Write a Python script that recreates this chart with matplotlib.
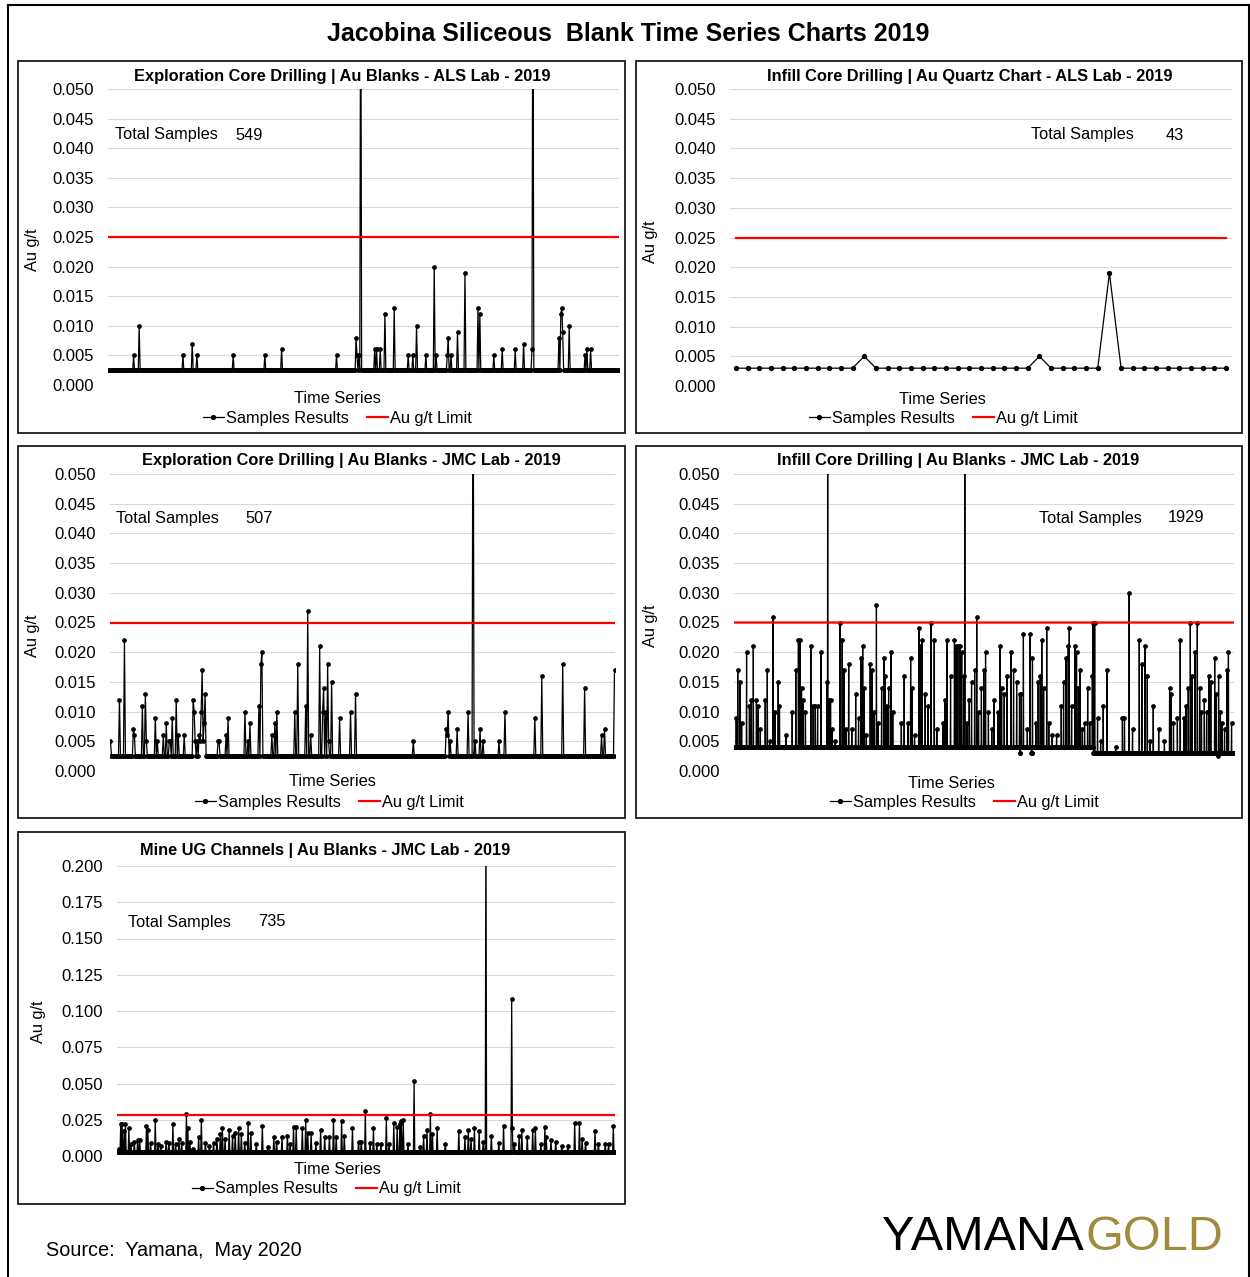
import numpy as np
import matplotlib
matplotlib.use("Agg")
import matplotlib.pyplot as plt
from matplotlib.lines import Line2D
from matplotlib.patches import Rectangle

W, H = 1250, 1277
plt.rcParams['font.family'] = ['Liberation Sans', 'DejaVu Sans']

# ---------------- data ----------------
# each panel: sample count, usual blank value, and the samples that differ from it
p1_n = 549
p1_base = 0.0025
p1_idx = [27, 33, 80, 90, 95, 134, 168, 186, 245, 266, 267, 269, 271, 286, 288, 292,
          297, 307, 322, 327, 331, 341, 350, 352, 364, 365, 368, 375, 383, 397, 399,
          414, 423, 437, 446, 455, 456, 484, 486, 487, 488, 495, 512, 514, 518]
p1_val = [0.005, 0.010, 0.005, 0.007, 0.005, 0.005, 0.005, 0.006, 0.005, 0.008, 0.005,
          0.005, 0.080, 0.006, 0.006, 0.006, 0.012, 0.013, 0.005, 0.005, 0.010, 0.005,
          0.020, 0.005, 0.005, 0.008, 0.005, 0.009, 0.019, 0.013, 0.012, 0.005, 0.006,
          0.006, 0.007, 0.006, 0.080, 0.008, 0.012, 0.013, 0.009, 0.010, 0.005, 0.006,
          0.006]

p2_n = 43
p2_base = 0.003
p2_idx = [11, 26, 32]
p2_val = [0.005, 0.005, 0.019]

p3_n = 507
p3_base = 0.0025
p3_idx = [0, 9, 14, 23, 24, 32, 35, 36, 45, 47, 53, 56, 59, 60, 62, 66, 68, 74, 83, 84,
          85, 87, 89, 90, 91, 92, 93, 94, 95, 108, 109, 116, 118, 135, 138, 140, 149,
          151, 152, 162, 165, 167, 185, 188, 196, 198, 201, 210, 213, 214, 216, 218,
          219, 222, 230, 241, 246, 304, 337, 338, 339, 341, 348, 359, 364, 366, 371,
          374, 390, 396, 426, 433, 454, 476, 493, 496, 506]
p3_val = [0.005, 0.012, 0.022, 0.007, 0.006, 0.011, 0.013, 0.005, 0.009, 0.005, 0.006,
          0.008, 0.005, 0.005, 0.009, 0.012, 0.006, 0.006, 0.012, 0.010, 0.005, 0.005,
          0.006, 0.005, 0.010, 0.017, 0.005, 0.008, 0.013, 0.005, 0.005, 0.006, 0.009,
          0.010, 0.005, 0.008, 0.011, 0.018, 0.020, 0.006, 0.008, 0.010, 0.010, 0.018,
          0.011, 0.027, 0.006, 0.021, 0.010, 0.014, 0.010, 0.018, 0.005, 0.015, 0.009,
          0.010, 0.013, 0.005, 0.007, 0.006, 0.010, 0.005, 0.007, 0.010, 0.080, 0.005,
          0.007, 0.005, 0.005, 0.010, 0.009, 0.016, 0.018, 0.014, 0.006, 0.007, 0.017]

p4_n = 1929
p4_base = 0.004
p4_base_late = 0.003
p4_switch = 1385
p4_idx = [8, 14, 23, 29, 48, 59, 66, 74, 86, 93, 101, 120, 128, 137, 150, 158, 170, 175,
          200, 224, 238, 248, 254, 260, 266, 275, 296, 305, 313, 322, 335, 358, 361, 367,
          372, 378, 390, 408, 417, 424, 432, 442, 454, 469, 480, 489, 496, 502, 510, 525,
          532, 540, 549, 555, 569, 578, 582, 590, 596, 605, 612, 645, 656, 671, 681, 687,
          696, 713, 719, 725, 737, 748, 760, 772, 782, 806, 814, 821, 835, 850, 856, 863,
          871, 878, 886, 890, 898, 907, 916, 928, 936, 943, 954, 963, 970, 981, 994, 1003,
          1018, 1026, 1032, 1042, 1053, 1068, 1078, 1090, 1101, 1103, 1104, 1108, 1116,
          1131, 1142, 1147, 1148, 1149, 1151, 1164, 1173, 1181, 1187, 1194, 1206, 1214,
          1227, 1244, 1262, 1271, 1280, 1289, 1293, 1302, 1315, 1321, 1328, 1334, 1343,
          1352, 1364, 1372, 1382, 1385, 1391, 1402, 1414, 1424, 1439, 1472, 1498, 1506,
          1524, 1537, 1563, 1573, 1585, 1594, 1605, 1617, 1638, 1660, 1680, 1686, 1695,
          1710, 1721, 1736, 1743, 1752, 1760, 1767, 1778, 1787, 1796, 1803, 1814, 1823,
          1832, 1839, 1854, 1860, 1868, 1869, 1876, 1883, 1892, 1901, 1907, 1919]
p4_val = [0.009, 0.017, 0.015, 0.008, 0.020, 0.011, 0.012, 0.021, 0.012, 0.011, 0.007,
          0.012, 0.017, 0.005, 0.026, 0.010, 0.015, 0.011, 0.006, 0.010, 0.017, 0.022,
          0.022, 0.014, 0.012, 0.010, 0.021, 0.011, 0.011, 0.011, 0.020, 0.015, 0.080,
          0.012, 0.012, 0.007, 0.005, 0.025, 0.022, 0.017, 0.007, 0.018, 0.007, 0.013,
          0.009, 0.019, 0.021, 0.014, 0.006, 0.018, 0.017, 0.010, 0.028, 0.008, 0.014,
          0.019, 0.016, 0.011, 0.014, 0.020, 0.010, 0.008, 0.016, 0.008, 0.019, 0.014,
          0.006, 0.024, 0.021, 0.022, 0.013, 0.011, 0.025, 0.022, 0.007, 0.008, 0.012,
          0.022, 0.016, 0.022, 0.021, 0.021, 0.021, 0.020, 0.016, 0.080, 0.008, 0.012,
          0.015, 0.017, 0.026, 0.010, 0.014, 0.017, 0.020, 0.010, 0.007, 0.012, 0.010,
          0.021, 0.014, 0.013, 0.016, 0.020, 0.017, 0.015, 0.013, 0.003, 0.003, 0.013,
          0.023, 0.007, 0.023, 0.003, 0.003, 0.003, 0.019, 0.008, 0.015, 0.016, 0.022,
          0.014, 0.024, 0.008, 0.006, 0.006, 0.011, 0.015, 0.019, 0.021, 0.024, 0.011,
          0.021, 0.020, 0.014, 0.017, 0.007, 0.008, 0.014, 0.008, 0.016, 0.025, 0.025,
          0.009, 0.005, 0.011, 0.017, 0.004, 0.009, 0.009, 0.030, 0.007, 0.022, 0.018,
          0.021, 0.016, 0.005, 0.011, 0.007, 0.005, 0.014, 0.013, 0.008, 0.009, 0.022,
          0.009, 0.011, 0.014, 0.025, 0.016, 0.020, 0.025, 0.014, 0.010, 0.012, 0.010,
          0.016, 0.015, 0.019, 0.013, 0.0025, 0.016, 0.010, 0.008, 0.007, 0.017, 0.020,
          0.008]

p5_n = 735
p5_base = 0.003
p5_idx = [3, 5, 7, 10, 12, 17, 20, 25, 30, 33, 43, 45, 49, 56, 60, 64, 72, 76, 82, 86,
          91, 95, 102, 104, 107, 112, 120, 124, 130, 136, 142, 147, 152, 155, 159, 165,
          170, 174, 179, 183, 188, 193, 197, 205, 214, 222, 231, 235, 243, 251, 255, 260,
          264, 273, 278, 281, 286, 293, 300, 306, 313, 319, 323, 331, 335, 347, 356, 360,
          366, 373, 378, 383, 389, 397, 401, 408, 413, 417, 419, 422, 429, 438, 447, 452,
          457, 462, 465, 472, 484, 504, 513, 518, 522, 527, 534, 540, 544, 552, 563, 570,
          582, 583, 586, 593, 597, 605, 613, 617, 625, 631, 633, 640, 647, 656, 665, 675,
          682, 686, 691, 705, 710, 720, 725, 732]
p5_val = [0.005, 0.022, 0.022, 0.017, 0.022, 0.019, 0.008, 0.010, 0.011, 0.011, 0.021,
          0.018, 0.009, 0.025, 0.008, 0.007, 0.010, 0.009, 0.022, 0.008, 0.012, 0.009,
          0.029, 0.019, 0.010, 0.005, 0.013, 0.025, 0.009, 0.007, 0.009, 0.012, 0.015,
          0.019, 0.012, 0.018, 0.014, 0.016, 0.019, 0.015, 0.009, 0.023, 0.016, 0.008,
          0.021, 0.006, 0.013, 0.010, 0.013, 0.014, 0.008, 0.020, 0.020, 0.019, 0.025,
          0.016, 0.016, 0.009, 0.018, 0.013, 0.013, 0.025, 0.013, 0.024, 0.014, 0.019,
          0.010, 0.010, 0.031, 0.009, 0.019, 0.008, 0.008, 0.026, 0.008, 0.023, 0.020,
          0.022, 0.024, 0.025, 0.008, 0.052, 0.006, 0.014, 0.018, 0.029, 0.015, 0.019,
          0.008, 0.017, 0.013, 0.018, 0.012, 0.019, 0.017, 0.010, 0.250, 0.014, 0.009,
          0.021, 0.108, 0.019, 0.008, 0.014, 0.018, 0.013, 0.018, 0.019, 0.008, 0.020,
          0.013, 0.011, 0.010, 0.007, 0.007, 0.023, 0.023, 0.012, 0.009, 0.017, 0.008,
          0.008, 0.008, 0.021]

limit_core = 0.025
limit_channels = 0.028

titles = ["Exploration Core Drilling | Au Blanks - ALS Lab - 2019",
          "Infill Core Drilling | Au Quartz Chart - ALS Lab - 2019",
          "Exploration Core Drilling | Au Blanks - JMC Lab - 2019",
          "Infill Core Drilling | Au Blanks - JMC Lab - 2019",
          "Mine UG Channels | Au Blanks - JMC Lab - 2019"]
core_ticks = [0.000, 0.005, 0.010, 0.015, 0.020, 0.025, 0.030, 0.035, 0.040, 0.045, 0.050]
channel_ticks = [0.000, 0.025, 0.050, 0.075, 0.100, 0.125, 0.150, 0.175, 0.200]


def build(n, base, idx, val):
    s = np.full(n, base, dtype=float)
    s[idx] = val
    return s


s1 = build(p1_n, p1_base, p1_idx, p1_val)
s2 = build(p2_n, p2_base, p2_idx, p2_val)
s3 = build(p3_n, p3_base, p3_idx, p3_val)
s4 = np.full(p4_n, p4_base)
s4[p4_switch:] = p4_base_late
s4[p4_idx] = p4_val
s5 = build(p5_n, p5_base, p5_idx, p5_val)


def fx(x):
    return x / W


def fy(y):
    return 1 - y / H


fig = plt.figure(figsize=(W / 100, H / 100), dpi=100)

# outer frame
fig.add_artist(Line2D([fx(8), fx(8)], [fy(5), 0], transform=fig.transFigure, color='black', lw=1.5))
fig.add_artist(Line2D([fx(8), fx(1249)], [fy(5), fy(5)], transform=fig.transFigure, color='black', lw=1.5))
fig.add_artist(Line2D([fx(1249), fx(1249)], [fy(5), 0], transform=fig.transFigure, color='black', lw=1.5))

fig.text(fx(628), fy(34), "Jacobina Siliceous  Blank Time Series Charts 2019", ha='center', va='center',
         fontsize=18, fontweight='bold')

FS = 11.8

# layout of each panel in pixels: box, axes (L, R, T, B), title, y label, "Time Series", legend, totals
panels = [
    dict(s=s1, lim=limit_core, ticks=core_ticks, box=(18, 61, 625, 433), ax=(108, 619, 89, 385),
         title=(342, 77), ylab=(32, 250), ts=(337, 398), leg=(337, 418), tot=(115, 135), num=(235, 135),
         total=str(p1_n), ms=2.4),
    dict(s=s2, lim=limit_core, ticks=core_ticks, box=(636, 61, 1242, 433), ax=(730, 1232, 89, 386),
         title=(970, 77), ylab=(651, 242), ts=(942, 399), leg=(943, 418), tot=(1031, 135), num=(1166, 135),
         total=str(p2_n), ms=2.8),
    dict(s=s3, lim=limit_core, ticks=core_ticks, box=(18, 446, 625, 818), ax=(110, 615, 474, 771),
         title=(351, 461), ylab=(32, 636), ts=(332, 782), leg=(329, 802), tot=(116, 519), num=(245, 519),
         total=str(p3_n), ms=2.4),
    dict(s=s4, lim=limit_core, ticks=core_ticks, box=(636, 446, 1242, 818), ax=(734, 1234, 474, 771),
         title=(958, 461), ylab=(651, 626), ts=(951, 783), leg=(964, 802), tot=(1039, 518), num=(1168, 518),
         total=str(p4_n), ms=2.4),
    dict(s=s5, lim=limit_channels, ticks=channel_ticks, box=(18, 832, 625, 1204), ax=(117, 615, 866, 1156),
         title=(325, 851), ylab=(38, 1022), ts=(337, 1169), leg=(326, 1189), tot=(128, 922), num=(258, 922),
         total=str(p5_n), ms=2.4),
]

for i, p in enumerate(panels):
    x0, y0, x1, y1 = p['box']
    fig.add_artist(Rectangle((fx(x0), fy(y1)), (x1 - x0) / W, (y1 - y0) / H, transform=fig.transFigure,
                             fill=False, ec='#1a1a1a', lw=1.3))
    L, R, T, B = p['ax']
    ax = fig.add_axes([fx(L), fy(B), (R - L) / W, (B - T) / H])
    s = p['s']
    x = np.arange(len(s))
    ax.plot(x, s, color='black', lw=0.9, marker='o', ms=p['ms'], zorder=2)
    ax.plot(x, np.full(len(s), p['lim']), color='red', lw=1.6, zorder=3)
    ax.set_xlim(-0.5, len(s) - 0.5)
    ax.set_ylim(p['ticks'][0], p['ticks'][-1])
    ax.set_yticks(p['ticks'])
    ax.set_yticklabels(["%.3f" % t for t in p['ticks']])
    ax.set_xticks([])
    ax.tick_params(axis='y', length=0, pad=10, labelsize=12)
    ax.yaxis.grid(True, color='#d9d9d9', lw=0.8)
    ax.set_axisbelow(True)
    for sp in ax.spines.values():
        sp.set_visible(False)

    fig.text(fx(p['title'][0]), fy(p['title'][1]), titles[i], ha='center', va='center',
             fontsize=FS, fontweight='bold')
    fig.text(fx(p['ylab'][0]), fy(p['ylab'][1]), "Au g/t", rotation=90, ha='center', va='center',
             fontsize=FS)
    fig.text(fx(p['ts'][0]), fy(p['ts'][1]), "Time Series", ha='center', va='center', fontsize=FS)
    fig.text(fx(p['tot'][0]), fy(p['tot'][1]), "Total Samples", ha='left', va='center', fontsize=FS)
    fig.text(fx(p['num'][0]), fy(p['num'][1]), p['total'], ha='left', va='center', fontsize=FS)

    handles = [Line2D([], [], color='black', lw=0.9, marker='o', ms=2.8),
               Line2D([], [], color='red', lw=1.6)]
    fig.legend(handles, ["Samples Results", "Au g/t Limit"], loc='center',
               bbox_to_anchor=(fx(p['leg'][0]), fy(p['leg'][1])), ncol=2, frameon=False,
               fontsize=FS, handlelength=1.3, handletextpad=0.1, columnspacing=1.1,
               borderpad=0, borderaxespad=0)

fig.text(fx(46), fy(1251), "Source:  Yamana,  May 2020", ha='left', va='center', fontsize=14.3)
fig.text(fx(1084), fy(1237), "YAMANA", ha='right', va='center', fontsize=35, color='black')
fig.text(fx(1085), fy(1237), "GOLD", ha='left', va='center', fontsize=35, color='#a08c3c')

fig.savefig("out.png", dpi=100)
